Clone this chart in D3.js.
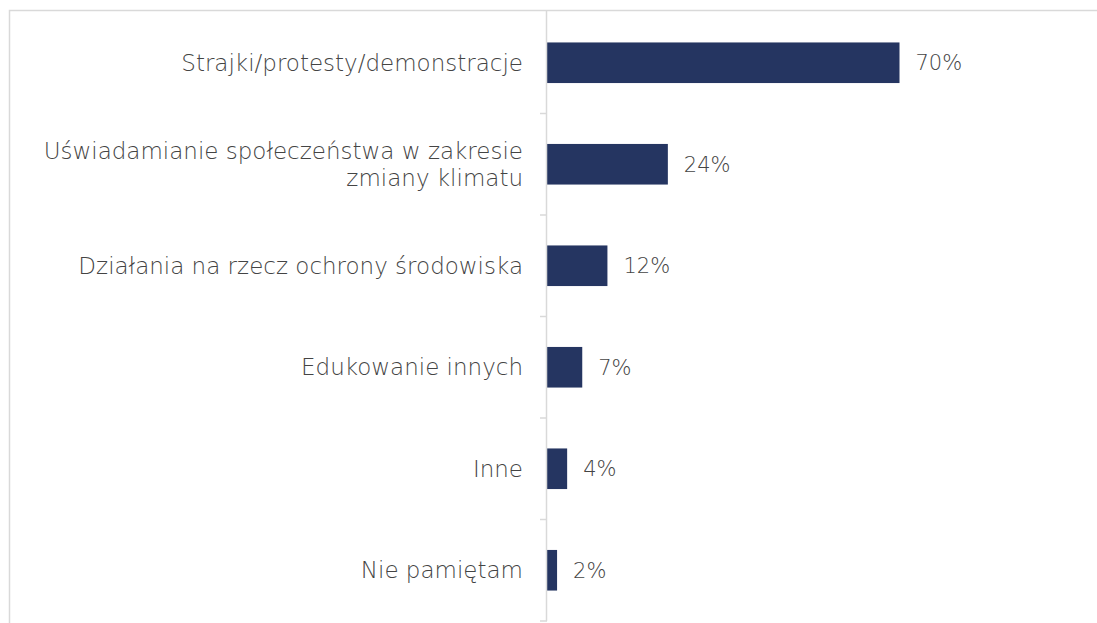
<!DOCTYPE html>
<meta charset="utf-8">
<html>
<head>
<style>
    body { margin: 0; background: #fff; }
    text { font-family: 'DejaVu Sans', sans-serif; font-weight: 200; }
</style>
</head>
<body>
<div id="chart"></div>

<script src="https://d3js.org/d3.v7.min.js"></script>
<script>
    // data
    let categories = [
        ['Strajki/protesty/demonstracje'],
        ['Uświadamianie społeczeństwa w zakresie', 'zmiany klimatu'],
        ['Działania na rzecz ochrony środowiska'],
        ['Edukowanie innych'],
        ['Inne'],
        ['Nie pamiętam']
    ];
    let values = [70, 24, 12, 7, 4, 2];
    let valueLabels = ['70%', '24%', '12%', '7%', '4%', '2%'];

    // chart setting
    let svgWidth = 1097;
    let svgHeight = 623;
    let axisX = 547;
    let plotTop = 12;
    let plotBottom = 621;
    let textColor = '#444444';

    let svg = d3.select('#chart')
        .append('svg')
        .attr('width', svgWidth)
        .attr('height', svgHeight);

    // outer frame
    svg.append('rect')
        .attr('x', 9.5)
        .attr('y', 10.5)
        .attr('width', svgWidth + 20)
        .attr('height', svgHeight + 20)
        .attr('fill', 'none')
        .attr('stroke', '#d9d9d9')
        .attr('stroke-width', 1.5);

    let idx = d3.range(values.length);

    let y = d3.scaleBand()
        .domain(idx)
        .range([plotTop, plotBottom])
        .paddingInner(0.6)
        .paddingOuter(0.3);

    let x = d3.scaleLinear()
        .domain([0, 70])
        .range([axisX, 899.5]);

    // bars
    svg.selectAll('rect.bar')
        .data(idx)
        .enter()
        .append('rect')
        .attr('class', 'bar')
        .attr('x', x(0))
        .attr('y', d => y(d))
        .attr('width', d => x(values[d]) - x(0))
        .attr('height', y.bandwidth())
        .attr('fill', '#253561');

    // axis line + ticks at category boundaries
    let step = y.step();
    let bounds = d3.range(values.length + 1).map(i => plotTop + i * step);
    svg.append('line')
        .attr('x1', axisX - 0.5).attr('x2', axisX - 0.5)
        .attr('y1', plotTop - 1).attr('y2', plotBottom)
        .attr('stroke', '#d9d9d9')
        .attr('stroke-width', 1.5);
    svg.selectAll('line.tick')
        .data(bounds.slice(1))
        .enter()
        .append('line')
        .attr('class', 'tick')
        .attr('x1', axisX - 7).attr('x2', axisX)
        .attr('y1', d => d).attr('y2', d => d)
        .attr('stroke', '#d9d9d9')
        .attr('stroke-width', 1.5);

    // category labels
    let lineH = 27;
    idx.forEach(i => {
        let lines = categories[i];
        let cy = y(i) + y.bandwidth() / 2;
        let t = svg.append('text')
            .attr('text-anchor', 'end')
            .attr('font-size', 23)
            .attr('fill', textColor);
        lines.forEach((ln, k) => {
            t.append('tspan')
                .attr('x', axisX - 24)
                .attr('y', cy + (k - (lines.length - 1) / 2) * lineH)
                .attr('dy', '0.35em')
                .text(ln);
        });
    });

    // value labels
    svg.selectAll('text.val')
        .data(idx)
        .enter()
        .append('text')
        .attr('class', 'val')
        .attr('x', d => x(values[d]) + 16)
        .attr('y', d => y(d) + y.bandwidth() / 2)
        .attr('dy', '0.35em')
        .attr('font-size', 21)
        .attr('fill', textColor)
        .text(d => valueLabels[d]);
</script>
</body>
</html>
